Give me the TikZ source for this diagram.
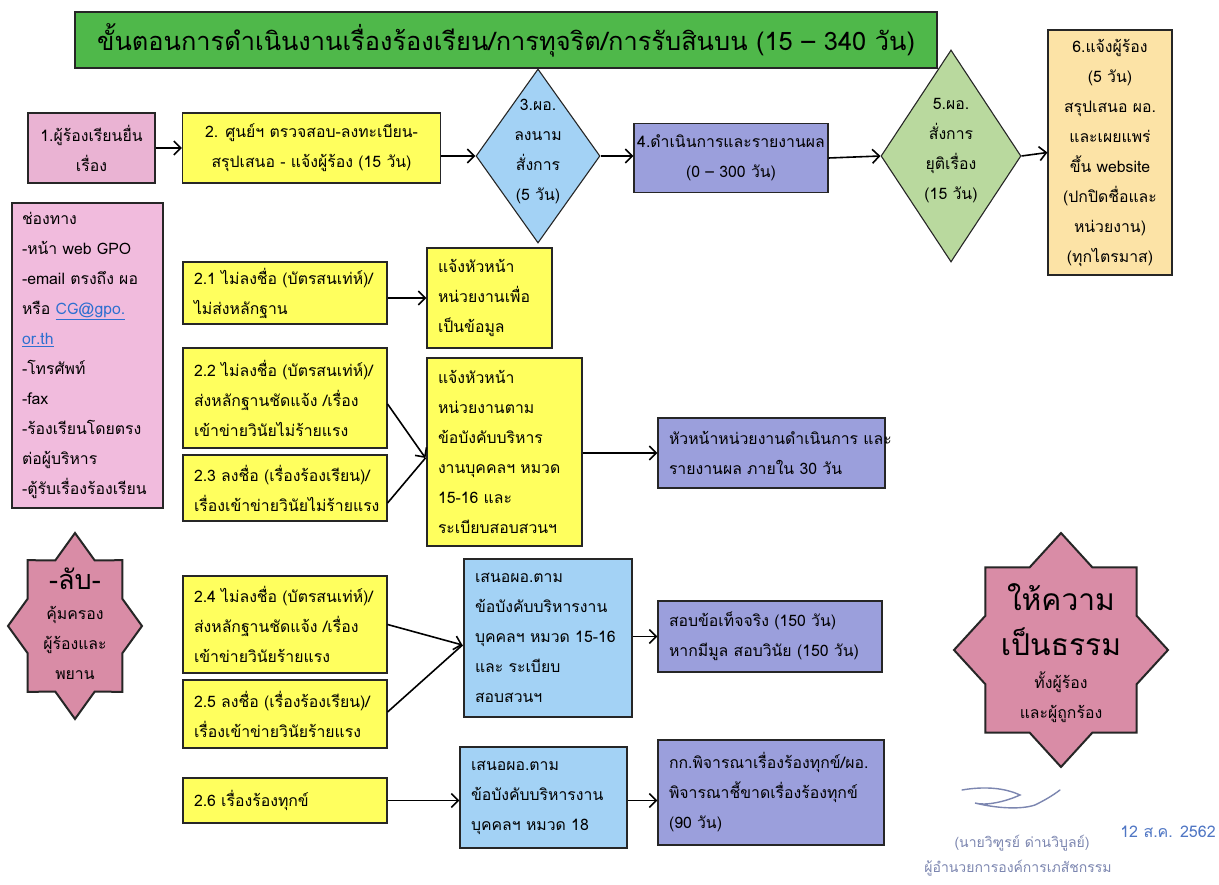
\documentclass[tikz,border=0pt]{standalone}
\usepackage{fontspec}
\newfontfamily\thai[Script=Thai]{Loma}
\usetikzlibrary{arrows.meta,shapes.geometric,calc}
\definecolor{titlegreen}{HTML}{4FB84A}
\definecolor{boxyellow}{HTML}{FFFF5E}
\definecolor{boxpink}{HTML}{EAB3D3}
\definecolor{chpink}{HTML}{F1BBDD}
\definecolor{boxpeach}{HTML}{FCE3A6}
\definecolor{boxblue}{HTML}{A3D2F5}
\definecolor{boxpurple}{HTML}{9B9FDC}
\definecolor{diagreen}{HTML}{B9D99E}
\definecolor{starpink}{HTML}{D98CA6}
\definecolor{linkblue}{HTML}{2D6FD0}
\definecolor{stampblue}{HTML}{4F76C4}
\definecolor{signgray}{HTML}{7C86B0}
\newcommand\bodyf{\thai\fontsize{15.8}{30}\selectfont}
\tikzset{
  base/.style={draw=black!85, line width=1.1pt, inner sep=0pt, font=\bodyf},
  cbox/.style={base, align=center},
  lbox/.style={base, align=left, inner xsep=11pt},
  conn/.style={line width=1.6pt, -{Straight Barb[length=7pt,width=14pt,line width=1.6pt]}},
  plain/.style={line width=1.6pt},
}
\newcommand\starpath[4]{% cx cy rx ry
  \filldraw[fill=starpink, draw=black!85, line width=2pt]
  ({#1+#3*sin(0)},{#2-#4*cos(0)})
  \foreach \k in {1,...,15}{
    -- ({#1+#3*(1-0.235*mod(\k,2))*sin(22.5*\k)},{#2-#4*(1-0.235*mod(\k,2))*cos(22.5*\k)})
  } -- cycle;}
\begin{document}
\begin{tikzpicture}[x=1pt,y=-1pt]
\useasboundingbox (0,0) rectangle (1219,885);
\fill[white] (0,0) rectangle (1219,885);

% title
\node[base, fill=titlegreen, minimum width=862pt, minimum height=56pt,
      font=\thai\fontsize{25.4}{30}\selectfont] (title) at (506,40)
  {ขั้นตอนการดำเนินงานเรื่องร้องเรียน/การทุจริต/การรับสินบน (15 – 340 วัน)};

% top row
\node[cbox, fill=boxpink, minimum width=127pt, minimum height=70pt] (n1) at (91.5,148)
  {1.ผู้ร้องเรียนยื่น\\เรื่อง};
\node[cbox, fill=boxyellow, minimum width=258pt, minimum height=70pt] (n2) at (311.5,148)
  {2. ศูนย์ฯ ตรวจสอบ-ลงทะเบียน-\\สรุปเสนอ - แจ้งผู้ร้อง (15 วัน)};
\node[diamond, draw=black!85, line width=1.1pt, fill=boxblue, inner sep=0pt,
      minimum width=124pt, minimum height=174pt] (d3) at (538,156) {};
\node[font=\bodyf, align=center] (d3t) at (538,151) {3.ผอ.\\ลงนาม\\สั่งการ\\(5 วัน)};
\node[cbox, fill=boxpurple, minimum width=194pt, minimum height=69pt] (n4) at (731,158)
  {4.ดำเนินการและรายงานผล\\(0 – 300 วัน)};
\node[diamond, draw=black!85, line width=1.1pt, fill=diagreen, inner sep=0pt,
      minimum width=140pt, minimum height=212pt] (d5) at (951,156) {};
\node[font=\bodyf, align=center] (d5t) at (951,151) {5.ผอ.\\สั่งการ\\ยุติเรื่อง\\(15 วัน)};
\node[cbox, fill=boxpeach, minimum width=124pt, minimum height=245pt] (n6) at (1110,152.5)
  {6.แจ้งผู้ร้อง\\(5 วัน)\\สรุปเสนอ ผอ.\\และเผยแพร่\\ขึ้น website\\(ปกปิดชื่อและ\\หน่วยงาน)\\(ทุกไตรมาส)};

% channels
\node[lbox, fill=chpink, inner xsep=10pt, text width=131pt, minimum width=151pt, minimum height=305pt] (ch) at (87.5,355.5)
  {ช่องทาง\\-หน้า~web~GPO\\-email~ตรงถึง~ผอ\\หรือ {\color{linkblue}\underline{CG@gpo.}}\\{\color{linkblue}\underline{or.th}}\\-โทรศัพท์\\-fax\\-ร้องเรียนโดยตรง\\ต่อผู้บริหาร\\-ตู้รับเรื่องร้องเรียน};

% branch boxes
\node[lbox, fill=boxyellow, text width=182pt, minimum height=62pt] (b21) at (285,293)
  {2.1~ไม่ลงชื่อ~(บัตรสนเท่ห์)/\\ไม่ส่งหลักฐาน};
\node[lbox, fill=boxyellow, text width=103pt, minimum height=100pt] (i1) at (489.5,298)
  {แจ้งหัวหน้า\\หน่วยงานเพื่อ\\เป็นข้อมูล};
\node[lbox, fill=boxyellow, text width=182pt, minimum height=100pt] (b22) at (285,398)
  {2.2~ไม่ลงชื่อ~(บัตรสนเท่ห์)/\\ส่งหลักฐานชัดแจ้ง~/เรื่อง\\เข้าข่ายวินัยไม่ร้ายแรง};
\node[lbox, fill=boxyellow, text width=182pt, minimum height=66pt] (b23) at (285,488)
  {2.3~ลงชื่อ~(เรื่องร้องเรียน)/\\เรื่องเข้าข่ายวินัยไม่ร้ายแรง};
\node[lbox, fill=boxyellow, text width=133pt, minimum height=188pt] (i2) at (504.5,452)
  {แจ้งหัวหน้า\\หน่วยงานตาม\\ข้อบังคับบริหาร\\งานบุคคลฯ~หมวด\\15-16~และ\\ระเบียบสอบสวนฯ};
\node[lbox, fill=boxpurple, text width=205pt, minimum height=70pt] (r1) at (771.5,453)
  {หัวหน้าหน่วยงานดำเนินการ~และ\\รายงานผล~ภายใน~30~วัน};

\node[lbox, fill=boxyellow, text width=182pt, minimum height=97pt] (b24) at (285,624.5)
  {2.4~ไม่ลงชื่อ~(บัตรสนเท่ห์)/\\ส่งหลักฐานชัดแจ้ง~/เรื่อง\\เข้าข่ายวินัยร้ายแรง};
\node[lbox, fill=boxyellow, text width=182pt, minimum height=68pt] (b25) at (285,714)
  {2.5~ลงชื่อ~(เรื่องร้องเรียน)/\\เรื่องเข้าข่ายวินัยร้ายแรง};
\node[lbox, fill=boxblue, text width=146pt, minimum height=158pt] (s1) at (548,638)
  {เสนอผอ.ตาม\\ข้อบังคับบริหารงาน\\บุคคลฯ~หมวด~15-16\\และ~ระเบียบ\\สอบสวนฯ};
\node[lbox, fill=boxpurple, text width=202pt, minimum height=71pt] (r2) at (770,636.5)
  {สอบข้อเท็จจริง~(150~วัน)\\หากมีมูล~สอบวินัย~(150~วัน)};

\node[lbox, fill=boxyellow, text width=182pt, minimum height=45pt] (b26) at (285,800.5)
  {2.6~เรื่องร้องทุกข์};
\node[lbox, fill=boxblue, text width=145pt, minimum height=101pt] (s2) at (543.5,797.5)
  {เสนอผอ.ตาม\\ข้อบังคับบริหารงาน\\บุคคลฯ~หมวด~18};
\node[lbox, fill=boxpurple, text width=204pt, minimum height=105pt] (r3) at (771,792.5)
  {กก.พิจารณาเรื่องร้องทุกข์/ผอ.\\พิจารณาชี้ขาดเรื่องร้องทุกข์\\(90~วัน)};

% stars
\starpath{75}{626}{67}{93}
\node[align=center, font=\bodyf] (st1) at (75,624)
  {{\fontsize{27}{34}\selectfont -ลับ-}\\คุ้มครอง\\ผู้ร้องและ\\พยาน};
\starpath{1061}{650}{107}{117}
\node[align=center, font=\thai\fontsize{30}{45}\selectfont] (st2a) at (1061,620)
  {ให้ความ\\เป็นธรรม};
\node[align=center, font=\bodyf] (st2b) at (1061,697)
  {ทั้งผู้ร้อง\\และผู้ถูกร้อง};

% connectors
\draw[conn] (n1.east) -- (n2.west);
\draw[conn] (n2.east |- d3.west) -- (d3.west);
\draw[conn] (d3.east) -- (n4.west |- d3.east);
\draw[conn] (n4.east) -- (d5.west);
\draw[conn] (d5.east) -- (n6.west);
\draw[conn] (b21.east |- i1.west) -- (i1.west);
\coordinate (j2) at ($(i2.west)+(-1,6)$);
\draw[conn] ([yshift=-6pt]b22.east) -- (j2);
\draw[plain] ([yshift=-15pt]b23.east) -- (j2);
\draw[conn] (i2.east |- r1.west) -- (r1.west);
\coordinate (j3) at ($(s1.west)+(-1,7)$);
\draw[conn] ([yshift=0pt]b24.east) -- (j3);
\draw[plain] ([yshift=2pt]b25.east) -- (j3);
\draw[conn] (s1.east |- r2.west) -- (r2.west);
\draw[conn] (b26.east) -- (s2.west |- b26.east);
\draw[conn] (s2.east |- b26.east) -- (r3.west |- b26.east);

% signature block
\draw[signgray, line width=1.4pt, line cap=round] (962,790) .. controls (985,786) and (1005,788) .. (1020,795)
  .. controls (1005,802) and (985,806) .. (975,803) .. controls (995,808) and (1020,810) .. (1035,805)
  .. controls (1045,800) and (1052,796) .. (1060,790);
\node[text=signgray, font=\thai\fontsize{14}{16}\selectfont] (sname) at (1022,843) {(นายวิฑูรย์ ด่านวิบูลย์)};
\node[text=signgray, font=\thai\fontsize{14}{16}\selectfont] (spos) at (1018,868) {ผู้อำนวยการองค์การเภสัชกรรม};
\node[text=stampblue, font=\thai\fontsize{16}{20}\selectfont] (sdate) at (1168,832) {12 ส.ค. 2562};
\end{tikzpicture}
\end{document}
